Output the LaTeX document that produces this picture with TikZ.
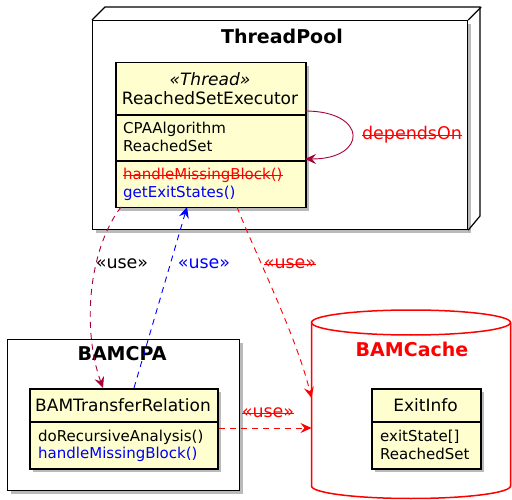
\documentclass[tikz,border=0pt]{standalone}
\usepackage{fontspec}
\setmainfont{DejaVu Sans}
\usetikzlibrary{arrows.meta,shadows}

\definecolor{umlfill}{HTML}{FEFECE}
\definecolor{umlarrow}{HTML}{A80036}

\newsavebox{\strikebox}
\newcommand{\strikeout}[1]{\sbox{\strikebox}{#1}\rlap{\usebox{\strikebox}}\rule[0.25em]{\wd\strikebox}{0.8pt}}

\tikzset{
  boxshadow/.style={drop shadow={shadow xshift=3pt, shadow yshift=-3pt, fill=black!45, opacity=0.6}},
  classbox/.style={draw, line width=1.5pt, fill=umlfill, boxshadow, inner sep=0, anchor=north west},
  groupbox/.style={draw, line width=1.2pt, fill=white, boxshadow, inner sep=0, anchor=north west},
  classtext/.style={font=\fontsize{15}{17}\selectfont, inner sep=0, anchor=west},
  classname/.style={font=\fontsize{17}{20}\selectfont, inner sep=0},
  grouptitle/.style={font=\fontsize{19}{22}\selectfont\bfseries, inner sep=0},
  uselabel/.style={font=\fontsize{17.5}{20}\selectfont, inner sep=0},
  usearrow/.style={dash pattern=on 6pt off 5pt, line width=0.9pt, -{Stealth[length=11pt, width=10pt, inset=4pt]}},
}

\begin{document}
\begin{tikzpicture}[x=1pt, y=-1pt]
  \useasboundingbox (0,0) rectangle (512,500);

  % ThreadPool node (3d box)
  \node[groupbox, minimum width=375, minimum height=209] (tpool) at (92,20) {};
  \draw[line width=1.2pt] (tpool.north west) -- ++(13,-13) -- ++(375,0) -- ++(0,209) -- (tpool.south east);
  \draw[line width=1.2pt] (tpool.north east) -- ++(13,-13);
  \node[grouptitle] (tpooltitle) at (282,36) {ThreadPool};

  % ReachedSetExecutor
  \node[classbox, minimum width=190, minimum height=145] (rse) at (115,62) {};
  \draw[line width=1.5pt] (115,115) -- (305,115);
  \draw[line width=1.5pt] (115,161) -- (305,161);
  \node[classname, font=\fontsize{17}{20}\selectfont\itshape] (rsestereo) at (210,79) {«Thread»};
  \node[classname] (rsename) at (210,98) {ReachedSetExecutor};
  \node[classtext] (rsea) at (123,129) {CPAAlgorithm};
  \node[classtext] (rseb) at (123,146) {ReachedSet};
  \node[classtext, text=red] (rsec) at (123,175) {\strikeout{handleMissingBlock()}};
  \node[classtext, text=blue] (rsed) at (123,193) {getExitStates()};

  % self dependency
  \coordinate (loopout) at (305,111);
  \coordinate (loopin) at (305,159);
  \draw[umlarrow, line width=0.9pt, -{Stealth[length=11pt, width=10pt, inset=4pt]}]
    (loopout) .. controls (368,111) and (368,159) .. (loopin);
  \node[uselabel, text=red] (dependslbl) at (412,135) {\strikeout{dependsOn}};

  % BAMCPA
  \node[groupbox, minimum width=232, minimum height=151] (bamcpa) at (7,339) {};
  \node[grouptitle] (bamcpatitle) at (122,354) {BAMCPA};

  \node[classbox, minimum width=188, minimum height=80] (btr) at (29,388) {};
  \draw[line width=1.5pt] (29,422) -- (217,422);
  \node[classname] (btrname) at (123,405) {BAMTransferRelation};
  \node[classtext] (btra) at (38,437) {doRecursiveAnalysis()};
  \node[classtext, text=blue] (btrb) at (38,454) {handleMissingBlock()};

  % BAMCache (database)
  \node[inner sep=0, anchor=north west, minimum width=200, minimum height=188] (bamcache) at (311.5,310) {};
  \draw[red, line width=1.5pt, fill=white]
    (311.5,322.5) -- (311.5,486) arc[start angle=180, end angle=360, x radius=99.5, y radius=-12.5]
    -- (510.5,322.5) arc[start angle=0, end angle=180, x radius=99.5, y radius=-12.5] -- cycle;
  \draw[red, line width=1.5pt] (311.5,322.5) arc[start angle=180, end angle=360, x radius=99.5, y radius=-12.5];
  \node[grouptitle, text=red] (bamcachetitle) at (412,349) {BAMCache};

  \node[classbox, minimum width=109, minimum height=80] (exitinfo) at (371,388) {};
  \draw[line width=1.5pt] (371,422) -- (480,422);
  \node[classname] (exitname) at (425.5,405) {ExitInfo};
  \node[classtext] (exita) at (380,437) {exitState[]};
  \node[classtext] (exitb) at (380,454) {ReachedSet};

  % dependencies
  \draw[usearrow, umlarrow] (121,207) .. controls (88,250) and (82,330) .. (btr.north -| 103,0);
  \node[uselabel] (use1) at (122,264) {«use»};

  \draw[usearrow, blue] (btr.north -| 134,0) -- (187,207);
  \node[uselabel, text=blue] (use2) at (204,264) {«use»};

  \draw[usearrow, red] (237,207) .. controls (256,255) and (296,335) .. (bamcache.west |- 0,398);
  \node[uselabel, text=red] (use3) at (290,264) {\strikeout{«use»}};

  \draw[usearrow, red] (btr.east |- 0,428) -- (bamcache.west |- 0,428);
  \node[uselabel, text=red] (use4) at (268,413) {\strikeout{«use»}};
\end{tikzpicture}
\end{document}
